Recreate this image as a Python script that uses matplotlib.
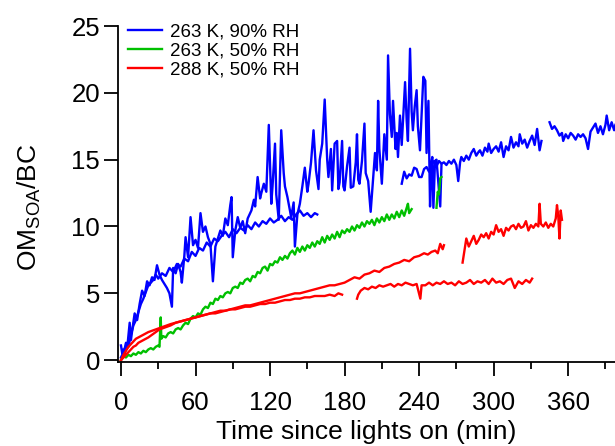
import numpy as np
import matplotlib
matplotlib.use("Agg")
import matplotlib.pyplot as plt
from matplotlib.ticker import MultipleLocator

nan = np.nan

# (time since lights on [min], OM_SOA/BC); nan = gap in record
blue_run1 = [(0, 0.2), (2, 0.6), (4, 1.2), (6, 1.0), (8, 1.9), (10, 2.6), (12, 3.0), (14, 3.6),
             (16, 4.2), (18, 4.6), (20, 5.1), (22, 5.6), (24, 5.8), (26, 6.0), (28, 6.4), (30, 6.1),
             (33, 6.5), (36, 6.3), (39, 6.9), (42, 6.6), (45, 7.2), (48, 7.0), (51, 7.6), (54, 7.4),
             (57, 8.1), (60, 7.8), (63, 8.4), (66, 8.2), (69, 8.8), (72, 8.5), (75, 9.1), (78, 8.9),
             (81, 9.3), (84, 9.6), (87, 9.2), (90, 9.8), (93, 9.5), (96, 9.9), (99, 9.7), (102, 10.1),
             (105, 9.8), (108, 10.3), (111, 10.0), (114, 10.4), (117, 10.2), (120, 10.6), (123, 10.3),
             (126, 10.5), (129, 10.8), (132, 10.4), (135, 10.7), (138, 10.5), (141, 10.9), (144, 11.2),
             (147, 10.8), (150, 11.0), (153, 10.7), (156, 11.0), (158, 10.9)]

blue_run2 = [(0, 1.1), (1, 0.5), (2, 0.8), (3, 0.3), (4, 1.3), (5, 0.9), (7, 2.8), (8, 1.5), (9, 2.2),
             (11, 3.5), (13, 3.0), (15, 4.2), (17, 5.2), (19, 4.8), (21, 5.9), (23, 5.6), (25, 6.2),
             (27, 6.0), (29, 7.1), (31, 6.4), (33, 6.0), (35, 5.7), (37, 5.4), (39, 5.0), (41, 4.0),
             (42, 6.9), (44, 6.5), (46, 7.2), (48, 6.6), (49, 5.8), (51, 7.8), (52, 9.2), (54, 7.7),
             (56, 10.7), (58, 8.6), (60, 9.0), (62, 8.4), (64, 11.0), (66, 9.6), (68, 10.0), (70, 9.2),
             (72, 8.7), (74, 5.9), (76, 8.5), (78, 9.1), (80, 9.7), (82, 9.3), (84, 10.6), (86, 10.1),
             (88, 11.6), (89, 12.2), (90, 7.7), (92, 9.7), (94, 10.7), (96, 9.9), (98, 10.4), (100, 9.5),
             (102, 10.6), (105, 11.2), (107, 12.0), (108, 11.5), (110, 13.7), (112, 12.1), (113, 12.5),
             (115, 13.2), (117, 12.6), (119, 17.6), (121, 11.7), (122, 13.0), (124, 16.2), (125, 12.4),
             (127, 10.5), (129, 17.2), (131, 14.0), (132, 13.0), (134, 12.2), (135, 11.7), (137, 10.7),
             (139, 11.8), (140, 8.5), (142, 10.9), (144, 11.7), (146, 13.0), (148, 14.4), (150, 12.6),
             (151, 13.2), (153, 14.8), (155, 17.2), (157, 14.2), (159, 12.8), (160, 15.0), (162, 16.2),
             (164, 19.5), (166, 15.0), (167, 13.7), (169, 15.8), (170, 12.7), (172, 16.2), (174, 16.4),
             (175, 12.8), (176, 13.3), (178, 16.4), (179, 13.0), (180, 12.7), (182, 14.5), (184, 15.9),
             (185, 12.9), (187, 13.0), (189, 14.8), (190, 16.9), (191, 13.5), (192, 13.2), (194, 14.9),
             (196, 17.7), (197, 14.0), (199, 13.4), (201, 11.1), (203, 13.6), (204.5, 15.5), (206, 14.2),
             (207, 19.4), (208, 15.8), (210, 13.2), (212, 16.9), (214, 15.0), (215, 22.8), (216.5, 18.4),
             (218, 16.7), (219, 19.4), (221, 15.8), (222, 17.0), (223, 15.2), (224.6, 18.3), (226, 16.1),
             (228.7, 20.8), (230, 17.9), (231, 16.4), (232.7, 23.3), (234, 18.6), (235, 17.2),
             (236.5, 19.0), (238, 20.2), (239, 17.5), (240.7, 15.7), (242, 18.4), (243.4, 21.2),
             (245, 20.9), (246, 15.5), (247.5, 19.4), (248.8, 11.5), (250, 14.8), (250.6, 15.2),
             (251.5, 11.4), (252.8, 14.9), (254, 15.0), (257, 11.5), (258, 14.6)]

blue_run3 = [(226, 13.2), (228, 14.1), (230, 13.6), (232, 13.9), (234, 13.8), (236, 14.4), (238, 14.3),
             (240, 13.7), (242, 13.7), (244, 14.3), (246, 14.45), (248, 14.1), (250, 14.6), (252, 14.9),
             (254, 14.5), (256, 14.9), (258, 14.7), (260, 14.8), (262, 14.6), (264, 14.9), (266, 14.7),
             (268, 15.0), (270, 14.6), (271.5, 13.4), (273, 14.8), (274, 15.2), (276, 14.9), (278, 15.3),
             (280, 15.0), (282, 15.5), (284, 15.8), (286, 15.3), (288, 15.6), (289, 15.7), (291, 15.3),
             (293, 15.9), (295, 15.6), (296, 16.2), (298, 15.5), (300, 15.8), (302, 16.0), (304, 15.6),
             (306, 16.3), (308, 15.2), (310, 16.0), (312, 15.7), (314, 16.7), (316, 15.9), (318, 16.3),
             (320, 16.0), (321, 16.9), (323, 16.2), (325, 16.5), (327, 15.9), (329, 16.4), (331, 16.8),
             (333, 16.1), (335, 17.3), (337, 15.7), (338.5, 16.4), (342, nan), (345, 17.8), (347, 17.3),
             (349, 17.5), (351, 17.2), (353, 16.8), (355, 17.0), (356, 16.4), (358, 16.9), (360, 16.6),
             (362, 17.0), (364, 16.8), (366, 16.5), (368, 16.9), (370, 16.7), (372, 16.9), (374, 16.6),
             (376, 15.8), (378, 17.1), (380, 17.4), (382, 17.7), (384, 17.0), (386, 17.5), (388, 16.9),
             (390, 17.6), (391, 18.3), (393, 17.2), (395, 17.8), (397, 17.2), (398, 17.6)]

green_run = [(0, 0.0), (2, 0.3), (4, 0.2), (6, 0.4), (8, 0.3), (10, 0.5), (12, 0.4), (14, 0.6), (16, 0.5),
             (18, 0.7), (20, 0.6), (22, 0.8), (24, 0.9), (26, 0.8), (28, 1.0), (30, 1.1), (31, 1.0),
             (32, 3.2), (32.5, 1.6), (34, 1.8), (36, 1.7), (38, 2.0), (40, 2.1), (42, 2.0), (44, 2.3),
             (46, 2.4), (48, 2.3), (50, 2.6), (52, 2.8), (54, 2.7), (56, 3.1), (58, 3.3), (60, 3.2),
             (62, 3.5), (64, 3.4), (66, 3.8), (68, 4.0), (70, 3.9), (72, 4.3), (74, 4.2), (76, 4.6),
             (78, 4.5), (80, 4.8), (82, 4.7), (84, 5.0), (86, 5.1), (88, 5.0), (90, 5.4), (92, 5.5),
             (94, 5.4), (96, 5.8), (98, 5.7), (100, 6.0), (102, 6.1), (104, 5.9), (106, 6.3), (108, 6.2),
             (110, 6.6), (112, 6.5), (114, 6.9), (116, 7.0), (118, 6.7), (120, 7.2), (122, 7.1),
             (124, 7.4), (126, 7.3), (128, 7.7), (130, 7.5), (132, 7.8), (134, 7.6), (136, 8.0),
             (138, 8.2), (140, 7.9), (142, 8.4), (144, 8.1), (146, 8.5), (148, 8.2), (150, 8.6),
             (152, 8.4), (154, 8.8), (156, 8.5), (158, 8.9), (160, 8.7), (162, 9.2), (164, 8.8),
             (166, 9.3), (168, 9.0), (170, 9.4), (172, 9.1), (174, 9.6), (176, 9.2), (178, 9.7),
             (180, 9.5), (182, 9.8), (184, 9.6), (186, 10.0), (188, 9.7), (190, 10.1), (192, 9.9),
             (194, 10.3), (196, 10.0), (198, 10.4), (200, 10.2), (202, 10.5), (204, 10.1), (206, 10.6),
             (208, 10.3), (210, 10.7), (212, 10.4), (214, 10.9), (216, 10.5), (218, 10.9), (220, 10.6),
             (222, 11.1), (224, 10.7), (226, 11.2), (228, 10.8), (230, 11.4), (231, 11.7), (232, 11.0),
             (234, 11.3), (244, nan), (254, 11.4), (255, 12.6), (256, 12.4), (257, 13.6), (258, 13.7)]

red_run1 = [(0, 0.0), (2, 0.4), (4, 0.7), (6, 1.0), (8, 1.2), (10, 1.4), (12, 1.6), (14, 1.7), (16, 1.8),
            (18, 1.9), (20, 2.0), (22, 2.1), (25, 2.2), (28, 2.3), (31, 2.4), (34, 2.5), (37, 2.6),
            (40, 2.7), (44, 2.8), (48, 2.9), (52, 3.0), (56, 3.1), (60, 3.2), (64, 3.3), (68, 3.4),
            (72, 3.5), (76, 3.5), (80, 3.6), (84, 3.7), (88, 3.8), (92, 3.8), (96, 3.9), (100, 4.0),
            (104, 4.0), (108, 4.1), (112, 4.2), (116, 4.2), (120, 4.3), (124, 4.3), (128, 4.4),
            (132, 4.5), (136, 4.5), (140, 4.6), (144, 4.6), (148, 4.7), (152, 4.7), (156, 4.8),
            (160, 4.8), (164, 4.8), (168, 4.9), (172, 4.8), (175, 5.0), (178, 4.9), (184, nan),
            (190, 4.6), (191, 4.9), (193, 5.2), (196, 5.4), (199, 5.3), (202, 5.5), (205, 5.4),
            (208, 5.6), (211, 5.5), (214, 5.6), (217, 5.7), (220, 5.5), (223, 5.7), (226, 5.6),
            (229, 5.8), (232, 5.7), (235, 5.6), (238, 5.7), (241, 4.6), (242, 5.6), (245, 5.6),
            (248, 5.8), (251, 5.6), (254, 5.8), (257, 5.7), (260, 5.9), (263, 5.7), (266, 5.8),
            (269, 5.6), (272, 5.9), (275, 5.7), (278, 5.8), (281, 6.0), (284, 5.7), (287, 5.9),
            (290, 5.8), (293, 6.0), (296, 5.7), (299, 6.1), (302, 5.8), (305, 5.9), (308, 5.7),
            (311, 6.0), (314, 6.1), (317, 5.4), (320, 5.9), (323, 5.7), (326, 6.0), (329, 5.8),
            (331, 6.1)]

red_run2 = [(0, 0.0), (2, 0.2), (4, 0.4), (6, 0.6), (8, 0.8), (10, 1.0), (12, 1.1), (14, 1.3), (16, 1.4),
            (18, 1.5), (20, 1.6), (22, 1.7), (25, 1.9), (28, 2.1), (31, 2.3), (34, 2.4), (37, 2.5),
            (40, 2.6), (44, 2.8), (48, 2.9), (52, 3.0), (56, 3.1), (60, 3.2), (64, 3.3), (68, 3.4),
            (72, 3.5), (76, 3.6), (80, 3.7), (84, 3.7), (88, 3.8), (92, 3.9), (96, 4.0), (100, 4.1),
            (104, 4.1), (108, 4.2), (112, 4.3), (116, 4.4), (120, 4.5), (124, 4.6), (128, 4.7),
            (132, 4.8), (136, 4.9), (140, 5.0), (144, 5.0), (148, 5.1), (152, 5.2), (156, 5.3),
            (160, 5.4), (164, 5.5), (168, 5.6), (172, 5.6), (176, 5.7), (180, 5.8), (184, 6.0),
            (188, 6.2), (192, 6.1), (196, 6.4), (200, 6.5), (204, 6.7), (208, 6.6), (212, 6.9),
            (216, 7.0), (220, 7.2), (224, 7.3), (228, 7.5), (232, 7.4), (236, 7.7), (240, 7.8),
            (244, 8.0), (247, 7.9), (250, 8.1), (253, 8.2), (255, 8.0), (257, 8.7), (259, 8.3),
            (260, 8.6), (268, nan), (275, 7.3), (276, 7.9), (278, 9.1), (280, 8.5), (282, 8.9),
            (284, 9.3), (286, 8.7), (288, 9.0), (290, 9.4), (292, 9.2), (294, 9.5), (296, 9.1),
            (298, 9.6), (300, 9.4), (302, 10.1), (304, 9.6), (306, 9.8), (308, 9.3), (310, 9.9),
            (312, 9.7), (314, 10.0), (316, 10.1), (318, 9.8), (320, 10.2), (322, 9.9), (324, 10.0),
            (326, 10.4), (328, 9.7), (330, 10.1), (332, 9.9), (334, 10.2), (336, 10.0), (337, 11.7),
            (338, 10.2), (340, 10.0), (342, 10.3), (344, 9.9), (346, 10.2), (348, 10.0), (350, 10.6),
            (351, 11.6), (352, 10.8), (353, 9.1), (354, 11.2), (355, 10.5)]

labels = ["263 K, 90% RH", "263 K, 50% RH", "288 K, 50% RH"]
colors = ["#0000FF", "#00C000", "#FF0000"]

plt.rcParams['font.family'] = ['Liberation Sans', 'DejaVu Sans']
plt.rcParams['mathtext.fontset'] = 'custom'
plt.rcParams['mathtext.rm'] = 'Liberation Sans'

fig = plt.figure(figsize=(6.15, 4.46), dpi=100)
ax = fig.add_axes([118 / 615, 1 - 361.5 / 446, 497 / 615, 335.5 / 446])

lw = 1.7
groups = [[blue_run1, blue_run2, blue_run3], [green_run], [red_run1, red_run2]]
for runs, c, lab in zip(groups, colors, labels):
    for i, run in enumerate(runs):
        t, y = np.array(run).T
        ax.plot(t, y, color=c, lw=lw, label=lab if i == 0 else None)

ax.set_xlim(-2.4, 397.7)
ax.set_ylim(-0.1, 25)
ax.xaxis.set_major_locator(MultipleLocator(60))
ax.xaxis.set_minor_locator(MultipleLocator(30))
ax.yaxis.set_major_locator(MultipleLocator(5))

for s in ['top', 'right']:
    ax.spines[s].set_visible(False)
for s in ['left', 'bottom']:
    ax.spines[s].set_linewidth(1.3)

ax.tick_params(axis='both', which='major', length=10, width=1.3, labelsize=18.5, direction='out')
ax.tick_params(axis='x', which='minor', length=5, width=1.3, direction='out')
ax.tick_params(axis='x', which='major', pad=11)
ax.tick_params(axis='y', which='major', pad=3)

ax.set_xlabel('Time since lights on (min)', fontsize=19, labelpad=4)
ax.set_ylabel(r'$\mathregular{OM_{SOA}/BC}$', fontsize=19)
ax.yaxis.set_label_coords(-0.15, 0.46)

ax.legend(loc='upper left', bbox_to_anchor=(128 / 615, 1 - 23 / 446), bbox_transform=fig.transFigure,
          frameon=False, fontsize=13.5, handlelength=1.8, handletextpad=0.45, labelspacing=0.1,
          borderpad=0, borderaxespad=0)

fig.savefig('out.png', dpi=100)
